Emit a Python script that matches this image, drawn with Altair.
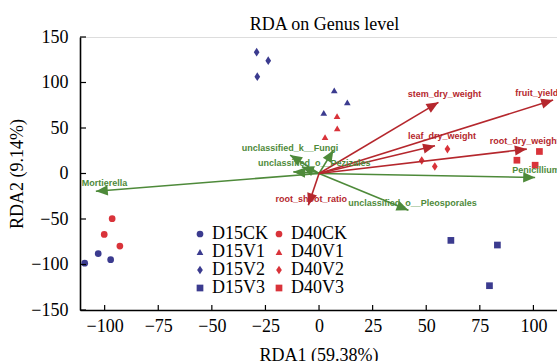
import math
import altair as alt
import pandas as pd

# ---- sample scores (site scores on RDA1 / RDA2) ----
groups = ["D15CK", "D15V1", "D15V2", "D15V3", "D40CK", "D40V1", "D40V2", "D40V3"]
site_group = (["D15CK"] * 3 + ["D40CK"] * 3 + ["D15V1"] * 3 + ["D40V1"] * 3
              + ["D15V2"] * 3 + ["D40V2"] * 3 + ["D15V3"] * 3 + ["D40V3"] * 3)
site_rda1 = [-109.3, -103.0, -97.2,
             -96.5, -100.2, -92.9,
             7.1, 13.2, 2.2,
             8.4, 8.5, 2.8,
             -29.1, -23.7, -28.8,
             59.9, 47.9, 54.0,
             61.5, 83.2, 79.5,
             102.8, 92.3, 100.8]
site_rda2 = [-98.5, -88.1, -94.7,
             -49.6, -66.9, -79.7,
             91.4, 78.2, 66.7,
             63.1, 49.6, 39.9,
             133.3, 124.0, 106.4,
             26.8, 14.3, 7.7,
             -73.5, -78.6, -123.3,
             24.2, 14.6, 9.1]

# ---- environmental factors (red vectors) ----
env_names = ["stem_dry_weight", "fruit_yield", "leaf_dry_weight",
             "root_dry_weight", "root_shoot_ratio"]
env_rda1 = [55.7, 109.2, 54.1, 96.9, -5.0]
env_rda2 = [78.2, 80.7, 30.4, 26.8, -34.9]

# ---- genera (green vectors) ----
genus_names = ["Mortierella", "Penicillium", "unclassified_o__Pleosporales",
               "unclassified_k__Fungi", "unclassified_o__Pezizales", "", ""]
genus_rda1 = [-104.1, 100.8, 41.7, -13.5, -12.0, -8.0, 6.7]
genus_rda2 = [-19.5, -4.4, -40.4, 20.2, 1.8, 7.3, 25.6]

x_ticks = [-100, -75, -50, -25, 0, 25, 50, 75, 100]
y_ticks = [-150, -100, -50, 0, 50, 100, 150]
title_text = "RDA on Genus level"

# ---- layout ----
W, H = 477, 273
X_DOM = [-111.5, 111.0]
Y_DOM = [-150, 150]
PX_X = W / (X_DOM[1] - X_DOM[0])
PX_Y = H / (Y_DOM[1] - Y_DOM[0])

BLUE = "#3b3b8f"
RED_PT = "#d9333a"
RED_VEC = "#b5272d"
GREEN = "#4e8a3a"
SERIF = "Liberation Serif"
SANS = "Liberation Sans"

# label placement relative to the arrow tip, in pixels (dx, dy, align)
label_offsets = {
    "stem_dry_weight": (6, -8, "center"),
    "fruit_yield": (-38, -7, "left"),
    "leaf_dry_weight": (7, -10, "center"),
    "root_dry_weight": (-37, -8, "left"),
    "root_shoot_ratio": (3, -6, "center"),
    "Mortierella": (-14, -8, "left"),
    "Penicillium": (-23, -8, "left"),
    "unclassified_o__Pleosporales": (4, -7, "center"),
    "unclassified_k__Fungi": (0, -7, "center"),
    "unclassified_o__Pezizales": (21, -9, "center"),
}


def vectors(names, xs, ys, kind):
    rows = []
    for n, x, y in zip(names, xs, ys):
        ang = math.degrees(math.atan2(x * PX_X, y * PX_Y)) % 360
        dx, dy, al = label_offsets.get(n, (0, 0, "center"))
        rows.append({"name": n, "x0": 0.0, "y0": 0.0, "x": x, "y": y,
                     "angle": ang, "kind": kind,
                     "lx": x + dx / PX_X, "ly": y - dy / PX_Y, "align": al})
    return pd.DataFrame(rows)


sites = pd.DataFrame({"group": site_group, "RDA1": site_rda1, "RDA2": site_rda2})
env = vectors(env_names, env_rda1, env_rda2, "env")
gen = vectors(genus_names, genus_rda1, genus_rda2, "genus")

xs = alt.Scale(domain=X_DOM, nice=False, zero=False)
ys = alt.Scale(domain=Y_DOM, nice=False, zero=False)

x_axis = alt.Axis(values=x_ticks, title="RDA1 (59.38%)", grid=False, ticks=False,
                  tickSize=0, labelPadding=7, labelFont=SERIF, labelFontSize=18,
                  labelColor="black", domainColor="black", domainWidth=1.6,
                  titleFont=SERIF, titleFontSize=18, titleFontWeight="normal",
                  titleColor="black", titleY=50.5, titleBaseline="alphabetic")
y_axis = alt.Axis(values=y_ticks, title="RDA2 (9.14%)", grid=False, ticks=False,
                  tickSize=0, labelPadding=12, labelFont=SERIF, labelFontSize=18,
                  labelColor="black", domainColor="black", domainWidth=1.6,
                  titleFont=SERIF, titleFontSize=18, titleFontWeight="normal",
                  titleColor="black", titleAngle=270, titleX=-63, titleY=136.5,
                  titleBaseline="middle", titleAlign="center")

diamond = "M0,-1.3L0.85,0L0,1.3L-0.85,0Z"
shape_of = {"CK": "circle", "V1": "triangle-up", "V2": diamond, "V3": "square"}
shapes = [shape_of[g[-2:]] for g in groups]
colors = [BLUE if g.startswith("D15") else RED_PT for g in groups]

legend = alt.Legend(title=None, orient="none", columns=2, direction="vertical",
                    legendX=111, legendY=188, labelFont=SERIF, labelFontSize=18,
                    labelColor="black", symbolSize=45, labelOffset=3,
                    columnPadding=1, rowPadding=0, padding=0)

points = alt.Chart(sites).mark_point(filled=True, opacity=1, size=45).encode(
    x=alt.X("RDA1:Q", scale=xs, axis=x_axis),
    y=alt.Y("RDA2:Q", scale=ys, axis=y_axis),
    color=alt.Color("group:N", scale=alt.Scale(domain=groups, range=colors),
                    legend=legend),
    shape=alt.Shape("group:N", scale=alt.Scale(domain=groups, range=shapes),
                    legend=legend),
)

head_path = "M0,0L-0.6,1.4L0.6,1.4Z"


def arrow_layers(df, color):
    line = alt.Chart(df).mark_rule(color=color, strokeWidth=1.6).encode(
        x=alt.X("x0:Q", scale=xs), y=alt.Y("y0:Q", scale=ys),
        x2="x:Q", y2="y:Q")
    head = alt.Chart(df).mark_point(shape=head_path, filled=True, opacity=1,
                                    color=color, size=290).encode(
        x=alt.X("x:Q", scale=xs), y=alt.Y("y:Q", scale=ys),
        angle=alt.Angle("angle:Q", scale=None))
    return [line, head]


def label_layers(df, color):
    out = []
    for al in ["left", "center"]:
        sub = df[(df["align"] == al) & (df["name"] != "")]
        if len(sub) == 0:
            continue
        out.append(alt.Chart(sub).mark_text(
            font=SANS, fontWeight="bold", fontSize=9, color=color,
            align=al, baseline="middle").encode(
            x=alt.X("lx:Q", scale=xs), y=alt.Y("ly:Q", scale=ys), text="name:N"))
    return out


tick_x = alt.Chart(pd.DataFrame({"v": x_ticks})).mark_rule(
    color="black", strokeWidth=1.2).encode(
    x=alt.X("v:Q", scale=xs), y=alt.value(H), y2=alt.value(H - 5))
tick_y = alt.Chart(pd.DataFrame({"v": y_ticks})).mark_rule(
    color="black", strokeWidth=1.2).encode(
    y=alt.Y("v:Q", scale=ys), x=alt.value(0), x2=alt.value(6))

title = alt.Chart(pd.DataFrame({"t": [title_text]})).mark_text(
    font=SERIF, fontSize=18, color="black", align="center",
    baseline="alphabetic").encode(
    text="t:N", x=alt.value(W / 2 + 6), y=alt.value(-7))

layers = ([points]
          + arrow_layers(gen, GREEN) + arrow_layers(env, RED_VEC)
          + label_layers(gen, GREEN) + label_layers(env, RED_VEC)
          + [tick_x, tick_y, title])

chart = alt.layer(*layers).properties(
    width=W, height=H, autosize="none",
    padding={"left": 80, "top": 37, "right": 0, "bottom": 51},
).configure_view(stroke=None).configure(background="white")

chart.save("out.html", embed_options={"renderer": "svg", "actions": False})
